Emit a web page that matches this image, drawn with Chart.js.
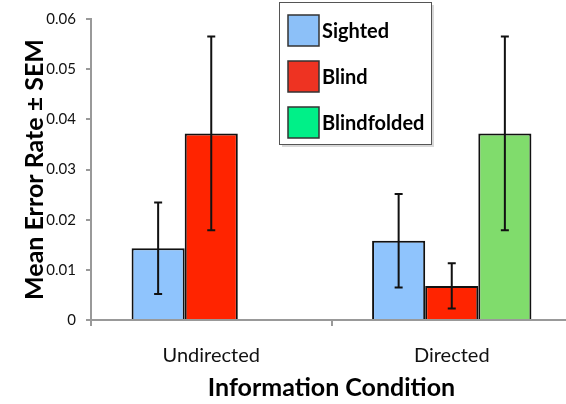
<!DOCTYPE html>
<html lang="en">
<head>
    <meta charset="UTF-8">
    <title>Mean Error Rate by Information Condition</title>
    <script src="https://cdn.jsdelivr.net/npm/chart.js"></script>
    <style>
        html, body { margin: 0; padding: 0; background: #fff; overflow: hidden; }
        canvas { display: block; }
    </style>
</head>
<body>
    <canvas id="errorChart" width="574" height="404"></canvas>

    <script>
        // Values
        const conditions = ['Undirected', 'Directed'];
        const groups = ['Sighted', 'Blind', 'Blindfolded'];
        const sighted = [0.0143, 0.0158];
        const sightedSem = [0.0091, 0.0093];
        const blind = [0.0372, 0.0068];
        const blindSem = [0.0193, 0.0045];
        const blindfolded = [null, 0.0372];
        const blindfoldedSem = [null, 0.0193];
        const yTicks = [0, 0.01, 0.02, 0.03, 0.04, 0.05, 0.06];

        const barColors = ['#8fc4fd', '#ff2400', '#80dc6c'];
        const legendColors = ['#8cc0f8', '#ee3322', '#00f088'];

        // Draw the ± SEM whiskers on top of each bar
        const errorBars = {
            id: 'errorBars',
            afterDatasetsDraw(chart) {
                const ctx = chart.ctx;
                const yScale = chart.scales.y;
                ctx.save();
                ctx.strokeStyle = '#111';
                ctx.lineWidth = 2;
                chart.data.datasets.forEach((ds, i) => {
                    const meta = chart.getDatasetMeta(i);
                    meta.data.forEach((bar, j) => {
                        const v = ds.data[j];
                        const e = ds.sem[j];
                        if (v == null || e == null) return;
                        const x = bar.x;
                        const yHi = yScale.getPixelForValue(v + e);
                        const yLo = yScale.getPixelForValue(v - e);
                        ctx.beginPath();
                        ctx.moveTo(x, yHi); ctx.lineTo(x, yLo);
                        ctx.moveTo(x - 4, yHi); ctx.lineTo(x + 4, yHi);
                        ctx.moveTo(x - 4, yLo); ctx.lineTo(x + 4, yLo);
                        ctx.stroke();
                    });
                });
                ctx.restore();
            }
        };

        // Boxed legend in the upper middle of the plot
        const boxLegend = {
            id: 'boxLegend',
            afterDraw(chart) {
                const ctx = chart.ctx;
                const left = 279, top = 2, w = 152, h = 142;
                ctx.save();
                ctx.fillStyle = '#d8d8d8';
                ctx.fillRect(left + 3, top + 3, w, h);
                ctx.fillStyle = '#fff';
                ctx.fillRect(left, top, w, h);
                ctx.strokeStyle = '#555';
                ctx.lineWidth = 1;
                ctx.strokeRect(left + 0.5, top + 0.5, w, h);
                ctx.font = 'bold 20px Lato';
                ctx.textBaseline = 'middle';
                groups.forEach((name, i) => {
                    const sy = 15 + i * 46;
                    ctx.fillStyle = legendColors[i];
                    ctx.fillRect(288, sy, 31, 31);
                    ctx.strokeStyle = '#333';
                    ctx.lineWidth = 1.5;
                    ctx.strokeRect(288, sy, 31, 31);
                    ctx.fillStyle = '#000';
                    ctx.fillText(name, 322, sy + 17);
                });
                ctx.restore();
            }
        };

        const sems = [sightedSem, blindSem, blindfoldedSem];
        const ctx = document.getElementById('errorChart').getContext('2d');
        const chart = new Chart(ctx, {
            type: 'bar',
            data: {
                labels: conditions,
                datasets: [sighted, blind, blindfolded].map((values, i) => ({
                    label: groups[i],
                    data: values,
                    sem: sems[i],
                    backgroundColor: barColors[i],
                    borderColor: '#111',
                    borderWidth: 2,
                    categoryPercentage: 0.6625,
                    barPercentage: 1
                }))
            },
            options: {
                responsive: false,
                animation: false,
                layout: { padding: { top: 11, right: 2, bottom: 0, left: 0 } },
                plugins: {
                    legend: { display: false },
                    tooltip: { enabled: false }
                },
                scales: {
                    x: {
                        grid: { drawOnChartArea: false, drawTicks: true, tickLength: 6, color: '#999', lineWidth: 2 },
                        border: { color: '#999', width: 2 },
                        ticks: { color: '#111', font: { family: 'Lato', size: 20 }, padding: 18 },
                        title: {
                            display: true,
                            text: 'Information Condition',
                            color: '#000',
                            font: { family: 'Lato', size: 25, weight: 'bold' },
                            padding: { top: 0, bottom: 1 }
                        },
                        afterFit(scale) { scale.height = 84; }
                    },
                    y: {
                        min: 0,
                        max: 0.06,
                        grid: { drawOnChartArea: false, drawTicks: true, tickLength: 5, color: '#999', lineWidth: 2 },
                        border: { color: '#999', width: 2 },
                        afterBuildTicks(scale) { scale.ticks = yTicks.map(v => ({ value: v })); },
                        ticks: {
                            color: '#111',
                            font: { family: 'Lato', size: 15 },
                            padding: 10,
                            callback: v => v === 0 ? '0' : v.toFixed(2)
                        },
                        title: {
                            display: true,
                            text: 'Mean Error Rate ± SEM',
                            color: '#000',
                            font: { family: 'Lato', size: 25, weight: 'bold' },
                            padding: { top: 20, bottom: 0 }
                        },
                        afterFit(scale) { scale.width = 91; }
                    }
                }
            },
            plugins: [errorBars, boxLegend]
        });
    </script>
</body>
</html>
